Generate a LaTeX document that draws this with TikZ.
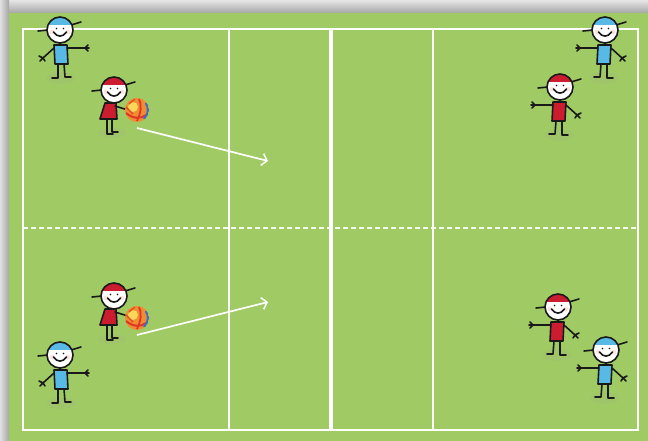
\documentclass[tikz,border=0pt]{standalone}
\usetikzlibrary{arrows.meta}
\definecolor{pitch}{RGB}{160,203,100}
\definecolor{kidblue}{RGB}{88,186,228}
\definecolor{kidred}{RGB}{204,28,48}
\definecolor{ink}{RGB}{25,25,25}
\definecolor{ballorange}{RGB}{240,140,50}
\definecolor{ballyellow}{RGB}{250,215,90}
\definecolor{ballred}{RGB}{222,55,40}
\definecolor{ballblue}{RGB}{60,110,200}

\tikzset{
  stroke/.style={draw=ink, line width=1.6pt, line cap=round, line join=round},
  fieldline/.style={draw=white, line width=1.6pt},
  runarrow/.style={draw=white, line width=1.7pt, -{Straight Barb[length=5pt,width=12pt,line width=1.5pt]}},
  ball/.style={circle, minimum size=24pt, inner sep=0pt, fill=ballorange,
    path picture={
      \coordinate (bc) at (path picture bounding box.center);
      \fill[ballyellow] ([shift={(-4,-3)}]bc) circle (5);
      \draw[ballred, line width=2pt] ([shift={(-11,3)}]bc) .. controls ([shift={(-4,9)}]bc) and ([shift={(4,9)}]bc) .. ([shift={(9,5)}]bc);
      \draw[ballred, line width=1.8pt] ([shift={(2,-11)}]bc) .. controls ([shift={(5,-4)}]bc) and ([shift={(4,2)}]bc) .. ([shift={(0,11)}]bc);
      \draw[ballblue, line width=2.4pt] ([shift={(9,-7)}]bc) .. controls ([shift={(12,-2)}]bc) and ([shift={(12,4)}]bc) .. ([shift={(7,9)}]bc);
      \draw[ballred!80!orange, line width=1.4pt] ([shift={(-11,-3)}]bc) -- ([shift={(-4,4)}]bc);
      \draw[ballred!70!orange, line width=1.4pt] ([shift={(-2,-11)}]bc) -- ([shift={(-8,-6)}]bc);
    }},
  pics/kidhead/.style={code={
    \draw[stroke] (-22,1) -- (-12,0);
    \draw[stroke] (11,-5) -- (21,-8);
    \fill[white] (0,0) circle (13);
    \begin{scope}
      \clip (0,0) circle (13);
      \fill[#1] (-14,-14) rectangle (14,-5);
      \fill[#1] (-14,-6) -- (14,-6) -- (14,-4.5) .. controls (5,-7) and (-5,-7) .. (-14,-4.5) -- cycle;
      \fill[pink!70, opacity=0.6] (-8,2) circle (2.4) (8,2) circle (2.4);
    \end{scope}
    \draw[stroke] (0,0) circle (13);
    \fill[ink] (-3.5,-1.5) circle (0.9) (3.5,-1.5) circle (0.9);
    \draw[stroke] (-6.5,2) .. controls (-3,7.5) and (3,7.5) .. (6.5,2);
  }},
  pics/kid/.style={code={
    \fill[black!40, opacity=0.12] (1,48) ellipse (15 and 6);
    \pic {kidhead=#1};
    \draw[stroke] (0,13) -- (0,15);
    \draw[stroke, fill=#1] (-6,15) -- (7,15) -- (8,34) -- (-5,34) -- cycle;
    \draw[stroke] (-6,18) -- (-17,28) (-17,28) -- (-21,26) (-17,28) -- (-20,31) (-17,28) -- (-15,31);
    \draw[stroke] (7,18) -- (25,18) (25,18) -- (28,15) (25,18) -- (28,21) (25,18) -- (29,18);
    \draw[stroke] (-2,34) -- (-2,48) -- (-8,48);
    \draw[stroke] (4,34) -- (5,47) -- (11,47);
  }},
  pics/thrower/.style={code={
    \fill[black!40, opacity=0.12] (-2,43) ellipse (14 and 5);
    \pic {kidhead=#1};
    \draw[stroke] (-2,13) -- (-3,14);
    \draw[stroke, fill=#1] (-9,13) -- (2,13) -- (3,29) -- (-14,29) -- cycle;
    \draw[stroke] (1,16) -- (17,21) (17,21) -- (20,18) (17,21) -- (21,23) (17,21) -- (16,25);
    \draw[stroke] (-7,29) -- (-7,44) -- (-1,44);
    \draw[stroke] (-2,29) -- (-2,42) -- (4,42);
  }}
}

\begin{document}
\begin{tikzpicture}[x=1pt, y=-1pt]
  \useasboundingbox (0,0) rectangle (648,441);

  % grey frame behind the field
  \shade[top color=black!10, bottom color=black!35] (0,0) rectangle (648,13);
  \shade[left color=black!12, right color=black!35] (0,0) rectangle (9,441);

  % playing field
  \fill[pitch] (9,13) rectangle (648,441);

  % court markings
  \draw[fieldline] (23,29) rectangle (638,430);
  \draw[fieldline] (229,29) -- (229,430);
  \draw[fieldline] (433,29) -- (433,430);
  \draw[fieldline, line width=3.6pt] (331,29) -- (331,430);
  \draw[draw=white!90!pitch, line width=1.4pt, dash pattern=on 5pt off 3pt] (23,228) -- (638,228);

  % players
  \pic at (60,30) {kid=kidblue};
  \pic at (60,355) {kid=kidblue};
  \pic[xscale=-1] at (605,30) {kid=kidblue};
  \pic[xscale=-1] at (606,350) {kid=kidblue};
  \pic[xscale=-1] at (560,87) {kid=kidred};
  \pic[xscale=-1] at (558,307) {kid=kidred};
  \pic at (114,90) {thrower=kidred};
  \pic at (114,296) {thrower=kidred};

  % balls
  \node[ball] (ballA) at (137,110) {};
  \node[ball] (ballB) at (137,318) {};

  % passes
  \coordinate (startA) at (137,128);
  \coordinate (tipA) at (268,161);
  \coordinate (startB) at (137,335);
  \coordinate (tipB) at (268,302);
  \draw[runarrow] (startA) -- (tipA);
  \draw[runarrow] (startB) -- (tipB);
\end{tikzpicture}
\end{document}
